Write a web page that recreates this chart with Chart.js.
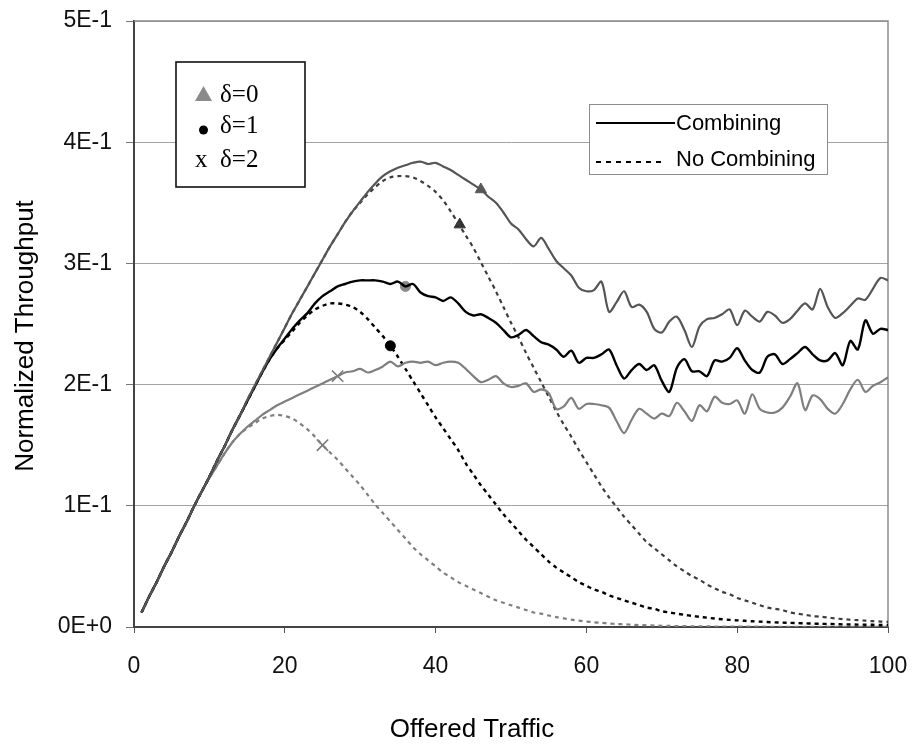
<!DOCTYPE html>
<html>
<head>
<meta charset="utf-8">
<script src="https://cdn.jsdelivr.net/npm/chart.js@4/dist/chart.umd.min.js"></script>
<style>
  html, body { margin: 0; padding: 0; background: #ffffff; }
  canvas { display: block; }
</style>
</head>
<body>
<canvas id="chart" width="914" height="744"></canvas>
<script>
// Offered traffic values (x axis)
const traffic = [
  1,2,3,4,5,6,7,8,9,10, 11,12,13,14,15,16,17,18,19,20,
  21,22,23,24,25,26,27,28,29,30, 31,32,33,34,35,36,37,38,39,40,
  41,42,43,44,45,46,47,48,49,50, 51,52,53,54,55,56,57,58,59,60,
  61,62,63,64,65,66,67,68,69,70, 71,72,73,74,75,76,77,78,79,80,
  81,82,83,84,85,86,87,88,89,90, 91,92,93,94,95,96,97,98,99,100
];

// Normalized throughput, with combining
const combDelta0 = [
  0.012,0.025,0.037,0.050,0.062,0.075,0.087,0.100,0.112,0.124,
  0.137,0.149,0.162,0.174,0.187,0.199,0.211,0.223,0.235,0.247,
  0.259,0.270,0.281,0.292,0.303,0.314,0.324,0.334,0.343,0.351,
  0.359,0.366,0.372,0.376,0.379,0.381,0.383,0.384,0.382,0.383,
  0.380,0.377,0.373,0.369,0.365,0.361,0.355,0.350,0.342,0.333,
  0.328,0.320,0.314,0.321,0.312,0.302,0.296,0.290,0.280,0.277,
  0.278,0.285,0.260,0.268,0.277,0.264,0.266,0.260,0.246,0.243,
  0.252,0.256,0.245,0.231,0.248,0.254,0.255,0.258,0.262,0.249,
  0.261,0.256,0.252,0.260,0.257,0.251,0.254,0.261,0.267,0.262,
  0.279,0.264,0.255,0.259,0.265,0.271,0.270,0.279,0.288,0.286
];
const combDelta1 = [
  0.012,0.025,0.037,0.050,0.062,0.075,0.087,0.100,0.112,0.124,
  0.137,0.149,0.162,0.174,0.186,0.198,0.210,0.221,0.230,0.238,
  0.246,0.253,0.259,0.267,0.273,0.277,0.281,0.283,0.285,0.286,
  0.286,0.286,0.285,0.283,0.285,0.281,0.283,0.276,0.273,0.272,
  0.269,0.272,0.267,0.260,0.257,0.258,0.255,0.251,0.245,0.239,
  0.241,0.245,0.240,0.235,0.233,0.229,0.223,0.228,0.218,0.222,
  0.222,0.225,0.229,0.216,0.205,0.212,0.217,0.212,0.216,0.203,
  0.194,0.214,0.221,0.211,0.211,0.207,0.220,0.219,0.222,0.230,
  0.220,0.212,0.210,0.223,0.225,0.217,0.221,0.226,0.231,0.225,
  0.220,0.220,0.226,0.216,0.236,0.229,0.253,0.242,0.246,0.245
];
const combDelta2 = [
  0.012,0.025,0.037,0.050,0.062,0.075,0.087,0.100,0.112,0.123,
  0.133,0.143,0.152,0.159,0.165,0.170,0.175,0.179,0.183,0.186,
  0.189,0.192,0.195,0.198,0.201,0.204,0.207,0.210,0.211,0.213,
  0.210,0.212,0.215,0.219,0.215,0.218,0.219,0.218,0.219,0.216,
  0.218,0.219,0.218,0.213,0.207,0.202,0.204,0.207,0.201,0.198,
  0.199,0.201,0.194,0.196,0.193,0.180,0.182,0.189,0.180,0.184,
  0.184,0.183,0.181,0.170,0.160,0.171,0.180,0.176,0.172,0.176,
  0.174,0.185,0.178,0.170,0.183,0.178,0.190,0.185,0.184,0.187,
  0.176,0.192,0.180,0.177,0.177,0.181,0.190,0.201,0.179,0.191,
  0.188,0.180,0.176,0.184,0.196,0.204,0.194,0.199,0.202,0.206
];

// Normalized throughput, no combining
const noCombDelta0 = [
  0.012,0.025,0.037,0.050,0.062,0.075,0.087,0.100,0.112,0.124,
  0.137,0.149,0.162,0.174,0.187,0.199,0.211,0.223,0.235,0.247,
  0.259,0.270,0.281,0.292,0.303,0.314,0.324,0.334,0.343,0.350,
  0.357,0.363,0.368,0.371,0.372,0.372,0.371,0.368,0.364,0.359,
  0.352,0.343,0.333,0.323,0.313,0.301,0.289,0.277,0.264,0.251,
  0.239,0.226,0.214,0.202,0.190,0.178,0.167,0.157,0.146,0.136,
  0.126,0.116,0.107,0.099,0.091,0.084,0.077,0.070,0.065,0.060,
  0.055,0.050,0.046,0.042,0.039,0.035,0.032,0.029,0.027,0.024,
  0.022,0.020,0.018,0.016,0.015,0.014,0.012,0.011,0.010,0.009,
  0.0085,0.0078,0.0071,0.0065,0.0060,0.0056,0.0052,0.0048,0.0045,0.0043
];
const noCombDelta1 = [
  0.012,0.025,0.037,0.050,0.062,0.075,0.087,0.100,0.112,0.124,
  0.137,0.149,0.162,0.174,0.186,0.198,0.210,0.221,0.230,0.237,
  0.244,0.251,0.257,0.262,0.265,0.267,0.267,0.266,0.264,0.260,
  0.254,0.247,0.240,0.232,0.223,0.213,0.203,0.193,0.183,0.173,
  0.164,0.155,0.146,0.135,0.126,0.117,0.109,0.101,0.093,0.086,
  0.079,0.072,0.066,0.060,0.054,0.049,0.045,0.041,0.037,0.034,
  0.031,0.029,0.026,0.024,0.022,0.020,0.018,0.016,0.015,0.013,
  0.012,0.011,0.010,0.0092,0.0084,0.0077,0.0070,0.0064,0.0059,0.0055,
  0.0051,0.0047,0.0044,0.0041,0.0038,0.0036,0.0034,0.0032,0.0030,0.0028,
  0.0026,0.0025,0.0024,0.0022,0.0021,0.0020,0.0019,0.0018,0.0017,0.0016
];
const noCombDelta2 = [
  0.012,0.025,0.037,0.050,0.062,0.075,0.087,0.100,0.112,0.123,
  0.133,0.143,0.152,0.159,0.164,0.168,0.172,0.174,0.175,0.174,
  0.172,0.168,0.163,0.157,0.150,0.144,0.138,0.131,0.124,0.117,
  0.109,0.101,0.094,0.087,0.080,0.073,0.066,0.060,0.055,0.050,
  0.045,0.041,0.037,0.034,0.031,0.028,0.025,0.022,0.020,0.018,
  0.016,0.014,0.012,0.011,0.0095,0.0082,0.0071,0.0061,0.0052,0.0045,
  0.0039,0.0034,0.0029,0.0025,0.0022,0.0019,0.0016,0.0014,0.0012,0.0010,
  0.0009,0.0008,0.0007,0.0006,0.0005,0.0005,0.0004,0.0004,0.0003,0.0003,
  0.0003,0.0003,0.0003,0.0002,0.0002,0.0002,0.0002,0.0002,0.0002,0.0002,
  0.0001,0.0001,0.0001,0.0001,0.0001,0.0001,0.0001,0.0001,0.0001,0.0001
];

// Marked operating points: [combining, no combining]
const markTraffic0 = [46, 43.2];
const markThroughput0 = [0.361, 0.332];
const markTraffic1 = [36, 34];
const markThroughput1 = [0.281, 0.232];
const markTraffic2 = [27, 25];
const markThroughput2 = [0.207, 0.150];

// Axis tick labels
const xTickLabels = ['0', '20', '40', '60', '80', '100'];
const yTickLabels = ['0E+0', '1E-1', '2E-1', '3E-1', '4E-1', '5E-1'];

const SANS = '"Liberation Sans", Arial, sans-serif';
const SERIF = '"Liberation Serif", "Times New Roman", serif';

const toPoints = (xs, ys) => xs.map((x, i) => ({ x: x, y: ys[i] }));

function curve(label, values, color, width, dashed) {
  return {
    label: label,
    data: toPoints(traffic, values),
    borderColor: color,
    borderWidth: width,
    borderDash: dashed ? [4, 4] : [],
    pointRadius: 0,
    tension: 0.3,
    fill: false
  };
}

// Frame around the plot area (top and right edges)
const plotFrame = {
  id: 'plotFrame',
  beforeDatasetsDraw(chart) {
    const { ctx, chartArea: a } = chart;
    ctx.save();
    ctx.strokeStyle = '#8c8c8c';
    ctx.lineWidth = 1.5;
    ctx.beginPath();
    ctx.moveTo(a.left, a.top);
    ctx.lineTo(a.right, a.top);
    ctx.lineTo(a.right, a.bottom);
    ctx.stroke();
    ctx.restore();
  }
};

// Legends and axis titles
const decorations = {
  id: 'decorations',
  afterDraw(chart) {
    const ctx = chart.ctx;
    ctx.save();

    // delta legend
    ctx.fillStyle = '#ffffff';
    ctx.fillRect(176, 62, 129, 125);
    ctx.strokeStyle = '#111';
    ctx.lineWidth = 1.6;
    ctx.strokeRect(176, 62, 129, 125);

    ctx.fillStyle = '#8a8a8a';
    ctx.beginPath();
    ctx.moveTo(203.5, 86);
    ctx.lineTo(212, 101);
    ctx.lineTo(195, 101);
    ctx.closePath();
    ctx.fill();

    ctx.fillStyle = '#000';
    ctx.beginPath();
    ctx.arc(203.5, 130, 4.5, 0, Math.PI * 2);
    ctx.fill();

    ctx.font = '25px ' + SERIF;
    ctx.textBaseline = 'alphabetic';
    ctx.textAlign = 'left';
    ctx.fillStyle = '#000';
    ctx.fillText('\u03b4=0', 220, 101.5);
    ctx.fillText('\u03b4=1', 220, 133);
    ctx.fillText('x', 195, 167);
    ctx.fillText('\u03b4=2', 220, 167);

    // combining legend
    ctx.fillStyle = '#ffffff';
    ctx.fillRect(589, 104, 238, 70);
    ctx.strokeStyle = '#8c8c8c';
    ctx.lineWidth = 1;
    ctx.strokeRect(589.5, 104.5, 238, 70);

    ctx.strokeStyle = '#000';
    ctx.lineWidth = 2;
    ctx.beginPath();
    ctx.moveTo(596, 123);
    ctx.lineTo(675, 123);
    ctx.stroke();
    ctx.setLineDash([5, 5]);
    ctx.beginPath();
    ctx.moveTo(596, 162);
    ctx.lineTo(662, 162);
    ctx.stroke();
    ctx.setLineDash([]);

    ctx.font = '22px ' + SANS;
    ctx.fillStyle = '#000';
    ctx.fillText('Combining', 676, 129.5);
    ctx.fillText('No Combining', 676, 166);

    // axis titles
    ctx.font = '26px ' + SANS;
    ctx.textAlign = 'center';
    ctx.fillText('Offered Traffic', 472, 737);
    ctx.translate(33, 336);
    ctx.rotate(-Math.PI / 2);
    ctx.textBaseline = 'alphabetic';
    ctx.fillText('Normalized Throughput', 0, 0);

    ctx.restore();
  }
};

new Chart(document.getElementById('chart'), {
  type: 'line',
  data: {
    datasets: [
      curve('Combining, \u03b4=0', combDelta0, '#555555', 2.2, false),
      curve('Combining, \u03b4=1', combDelta1, '#000000', 2.4, false),
      curve('Combining, \u03b4=2', combDelta2, '#7f7f7f', 2.2, false),
      curve('No Combining, \u03b4=0', noCombDelta0, '#3c3c3c', 2.2, true),
      curve('No Combining, \u03b4=1', noCombDelta1, '#000000', 2.4, true),
      curve('No Combining, \u03b4=2', noCombDelta2, '#7f7f7f', 2.2, true),
      {
        label: '\u03b4=0',
        data: toPoints(markTraffic0, markThroughput0),
        showLine: false,
        pointStyle: 'triangle',
        pointRadius: 6.5,
        backgroundColor: ['#5a5a5a', '#333333'],
        borderColor: ['#5a5a5a', '#333333'],
        borderWidth: 1
      },
      {
        label: '\u03b4=1',
        data: toPoints(markTraffic1, markThroughput1),
        showLine: false,
        pointStyle: 'circle',
        pointRadius: 5,
        backgroundColor: ['#8a8a8a', '#000000'],
        borderColor: ['#8a8a8a', '#000000'],
        borderWidth: 1
      },
      {
        label: '\u03b4=2',
        data: toPoints(markTraffic2, markThroughput2),
        showLine: false,
        pointStyle: 'crossRot',
        pointRadius: 8,
        borderColor: '#777777',
        borderWidth: 1.6
      }
    ]
  },
  options: {
    responsive: false,
    devicePixelRatio: 1,
    animation: false,
    events: [],
    layout: { padding: { top: 21, right: 26, bottom: 0, left: 0 } },
    plugins: {
      legend: { display: false },
      tooltip: { enabled: false }
    },
    scales: {
      x: {
        type: 'linear',
        min: 0,
        max: 100,
        afterFit(scale) {
          scale.height = 117;
          scale.paddingLeft = 0;
          scale.paddingRight = 0;
        },
        ticks: {
          stepSize: 20,
          padding: 20,
          color: '#111',
          font: { family: SANS, size: 23 },
          maxRotation: 0,
          callback: (v, i) => xTickLabels[i]
        },
        grid: {
          drawOnChartArea: false,
          drawTicks: true,
          tickLength: 6,
          tickColor: '#555',
          color: '#555'
        },
        border: { display: true, color: '#444', width: 2 }
      },
      y: {
        min: 0,
        max: 0.5,
        afterFit(scale) {
          scale.width = 134;
          scale.paddingTop = 0;
          scale.paddingBottom = 0;
        },
        ticks: {
          stepSize: 0.1,
          padding: 14,
          color: '#111',
          font: { family: SANS, size: 23 },
          callback: (v, i) => yTickLabels[i]
        },
        grid: {
          color: '#a3a3a3',
          lineWidth: 1,
          drawTicks: true,
          tickLength: 8,
          tickColor: '#777'
        },
        border: { display: true, color: '#444', width: 2 }
      }
    }
  },
  plugins: [plotFrame, decorations]
});
</script>
</body>
</html>
